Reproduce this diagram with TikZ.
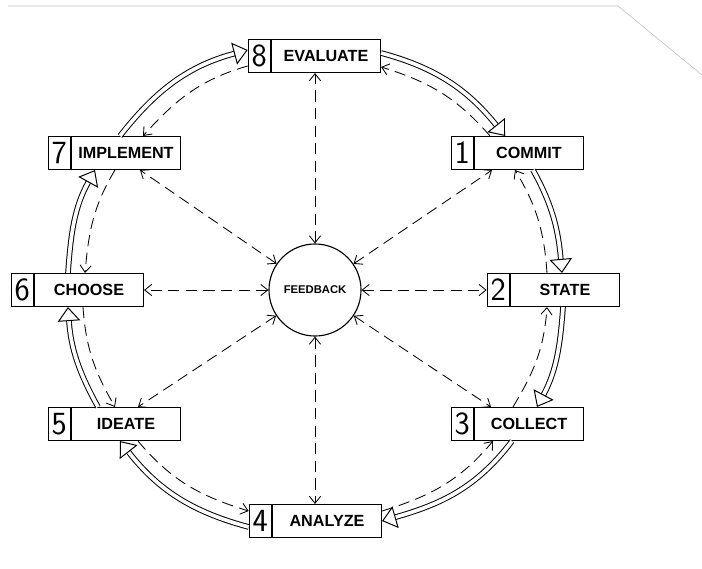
\documentclass[tikz,border=0pt]{standalone}
\usepackage{fontspec}
\setmainfont{Liberation Sans}
\usetikzlibrary{calc, positioning, arrows.meta}

\begin{document}
\begin{tikzpicture}[x=0.025cm, y=0.025cm,
  stage/.style={draw, line width=0.9pt, minimum width=2.72cm, minimum height=0.82cm, inner sep=0pt, font=\fontsize{11.5}{13}\selectfont\bfseries},
  num/.style={draw, line width=0.9pt, minimum width=0.55cm, minimum height=0.82cm, inner sep=0pt, font=\fontsize{23}{23}\selectfont\sffamily},
  spoke/.style={<->, line width=0.6pt, dash pattern=on 8pt off 4.5pt},
  back/.style={->, line width=0.6pt, dash pattern=on 8pt off 4.5pt},
  flow/.style={double, double distance=2.6pt, line width=0.7pt, -{Triangle[open, length=10pt, width=16pt]}},
  >={Straight Barb[length=5pt, width=8pt]}]
  \useasboundingbox (0,0) rectangle (702,568);
  % edge of the scanned page
  \draw[gray!50] (8,562) -- (618,562) -- (702,493);

  % the eight stages
  \node[stage] (s8) at (326,512) {EVALUATE};
  \node[num, left=0pt of s8] (n8) {8};
  \node[stage] (s1) at (529,415) {COMMIT};
  \node[num, left=0pt of s1] (n1) {1};
  \node[stage] (s2) at (565,278) {STATE};
  \node[num, left=0pt of s2] (n2) {2};
  \node[stage] (s3) at (529,144) {COLLECT};
  \node[num, left=0pt of s3] (n3) {3};
  \node[stage] (s4) at (327,47) {ANALYZE};
  \node[num, left=0pt of s4] (n4) {4};
  \node[stage] (s5) at (126,144) {IDEATE};
  \node[num, left=0pt of s5] (n5) {5};
  \node[stage] (s6) at (89,278) {CHOOSE};
  \node[num, left=0pt of s6] (n6) {6};
  \node[stage] (s7) at (126,415) {IMPLEMENT};
  \node[num, left=0pt of s7] (n7) {7};

  \node[draw, circle, line width=0.8pt, minimum size=2.3cm, inner sep=0pt, font=\fontsize{8}{9}\selectfont\bfseries] (fb) at (315,278) {FEEDBACK};

  % spokes
  \draw[spoke] (fb) -- (fb |- s8.south);
  \draw[spoke] (fb) -- ($(s1.south)+(-37,0)$);
  \draw[spoke] (fb) -- (n2.west);
  \draw[spoke] (fb) -- ($(s3.north)+(-38,0)$);
  \draw[spoke] (fb) -- (fb |- s4.north);
  \draw[spoke] (fb) -- ($(s5.north)+(12,0)$);
  \draw[spoke] (fb) -- (s6.east);
  \draw[spoke] (fb) -- ($(s7.south)+(14,0)$);

  % forward ring
  \draw[flow] ($(s8.east)+(0,3)$) to[out=-15, in=129] ($(s1.north)+(-24,0)$);
  \draw[flow] ($(s1.south)+(4,0)$) to[out=-61, in=95] ($(s2.north)+(-3,0)$);
  \draw[flow] ($(s2.south)+(-2,0)$) to[out=-94, in=62] ($(s3.north)+(8,0)$);
  \draw[flow] ($(s3.south)+(-17,0)$) to[out=-127, in=16] (s4.east);
  \draw[flow] ($(n4.west)+(0,-6)$) to[out=165, in=-52] ($(s5.south)+(-6,0)$);
  \draw[flow] ($(s5.north)+(-28,0)$) to[out=119, in=-86] ($(s6.south)+(-21,0)$);
  \draw[flow] ($(s6.north)+(-21,0)$) to[out=86, in=-119] ($(s7.south)+(-31,0)$);
  \draw[flow] ($(s7.north)+(-6,0)$) to[out=52, in=-165] ($(n8.west)+(0,6)$);

  % backward ring
  \draw[back] ($(s1.north)+(-39,0)$) to[out=131, in=-17] ($(s8.east)+(0,-11)$);
  \draw[back] ($(n8.west)+(0,-10)$) to[out=196, in=48] ($(s7.north)+(17,0)$);
  \draw[back] ($(s7.south)+(-11,0)$) to[out=239, in=85] ($(s6.north)+(-4,0)$);
  \draw[back] ($(s6.south)+(-6,0)$) to[out=-86, in=120] ($(s5.north)+(-11,0)$);
  \draw[back] ($(s5.south)+(12,0)$) to[out=-50, in=163] ($(n4.west)+(0,10)$);
  \draw[back] ($(s4.east)+(0,10)$) to[out=17, in=-130] ($(s3.south)+(-36,0)$);
  \draw[back] ($(s3.north)+(-16,0)$) to[out=59, in=-94] ($(s2.south)+(-18,0)$);
  \draw[back] ($(s2.north)+(-18,0)$) to[out=94, in=-59] ($(s1.south)+(-14,0)$);
\end{tikzpicture}
\end{document}
